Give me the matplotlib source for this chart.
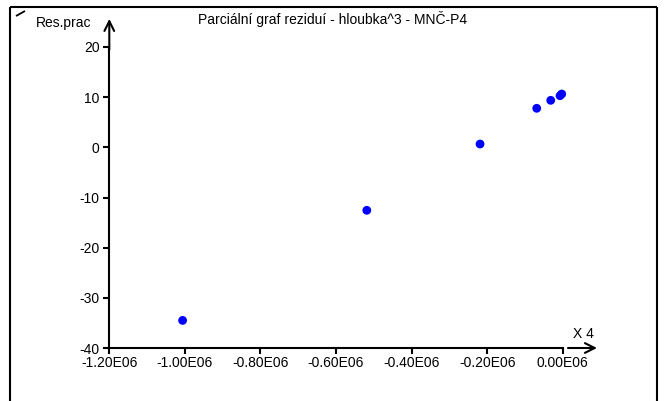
import matplotlib
matplotlib.use("Agg")
import matplotlib.pyplot as plt
from matplotlib.lines import Line2D

plt.rcParams['font.family'] = ['Liberation Sans', 'DejaVu Sans']
plt.rcParams['axes.unicode_minus'] = False

title = "Parciální graf reziduí - hloubka^3 - MNČ-P4"
ylabel = "Res.prac"
xlabel = "X 4"
x_vals = [-1.006e6, -0.5185e6, -0.2188e6, -0.0688e6, -0.0317e6, -0.0071e6, -0.0026e6]
y_vals = [-34.5, -12.55, 0.66, 7.78, 9.37, 10.29, 10.63]
xticks = [-1.2e6, -1.0e6, -0.8e6, -0.6e6, -0.4e6, -0.2e6, 0.0]
xtick_labels = ["-1.20E06", "-1.00E06", "-0.80E06", "-0.60E06", "-0.40E06", "-0.20E06", "0.00E06"]
yticks = [-40, -30, -20, -10, 0, 10, 20]

W, H = 665, 401
fig = plt.figure(figsize=(W / 100, H / 100), dpi=100)

left_px, right_px = 109.3, 600.5
bottom_px, top_px = 348, 16.9
ax = fig.add_axes([left_px / W, (H - bottom_px) / H, (right_px - left_px) / W, (bottom_px - top_px) / H])
ax.set_xlim(-1.2e6, 0.1e6)
ax.set_ylim(-40, 26)

ax.scatter(x_vals, y_vals, s=40, color='#0000ff', edgecolors='none', zorder=3)

for s in ['top', 'right']:
    ax.spines[s].set_visible(False)
for s in ['left', 'bottom']:
    ax.spines[s].set_linewidth(1.5)
ax.spines['bottom'].set_bounds(-1.2e6, 0.0)
ax.spines['left'].set_bounds(-40, 20)

ax.set_xticks(xticks)
ax.set_xticklabels(xtick_labels)
ax.set_yticks(yticks)
ax.tick_params(axis='both', direction='out', length=4.5, width=1.5, labelsize=10, colors='black')
ax.tick_params(axis='x', pad=1.5)
ax.tick_params(axis='y', pad=2.5)

# axis arrows
ax.annotate('', xy=(-1.2e6, 25.6), xytext=(-1.2e6, 19.5), xycoords='data',
            arrowprops=dict(arrowstyle='->,head_length=0.7,head_width=0.35', lw=1.5, color='black',
                            shrinkA=0, shrinkB=0))
ax.annotate('', xy=(0.0907e6, -40), xytext=(0.014e6, -40), xycoords='data',
            annotation_clip=False,
            arrowprops=dict(arrowstyle='->,head_length=0.7,head_width=0.35', lw=1.5, color='black',
                            shrinkA=0, shrinkB=0))

# texts
fig.text(333 / W, 1 - 19 / H, title, ha='center', va='center', fontsize=10)
fig.text(36 / W, 1 - 23 / H, ylabel, ha='left', va='center', fontsize=10)
fig.text(583 / W, 1 - 334 / H, xlabel, ha='center', va='center', fontsize=10)

# outer frame
def px_line(x0, y0, x1, y1, lw=1.5):
    fig.add_artist(Line2D([x0 / W, x1 / W], [1 - y0 / H, 1 - y1 / H], transform=fig.transFigure,
                          color='black', lw=lw, solid_capstyle='butt'))

px_line(10, 7, 10, 401)
px_line(10, 7, 657, 7)
px_line(657, 7, 657, 401)
px_line(16, 16, 25, 11, lw=1.3)

fig.savefig('out.png', dpi=100)
